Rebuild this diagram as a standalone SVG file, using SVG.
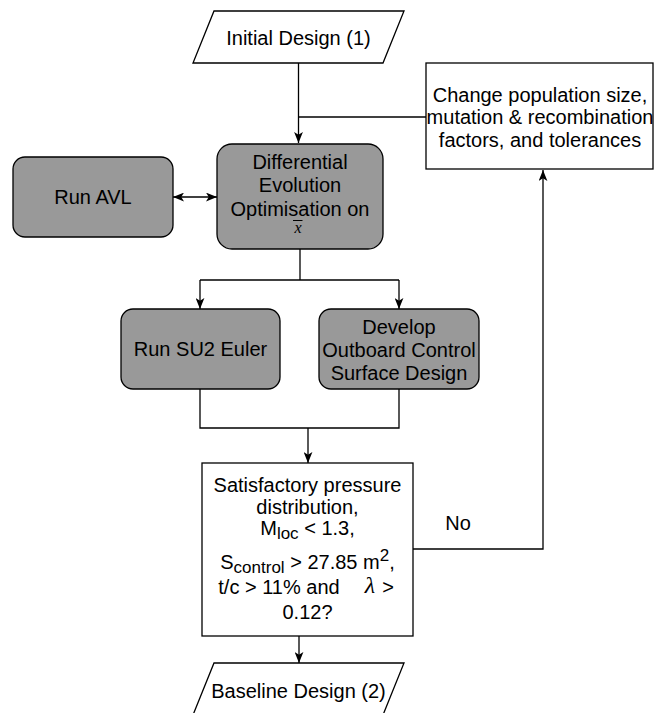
<svg xmlns="http://www.w3.org/2000/svg" width="655" height="713" viewBox="0 0 655 713">
<defs>
<style>
.t{font-family:"Liberation Sans",Arial,Helvetica,sans-serif;font-size:20px;fill:#000;text-anchor:middle}
.s{font-family:"Liberation Sans",Arial,Helvetica,sans-serif;font-size:17px;fill:#000}
.box{fill:#fff;stroke:#000;stroke-width:1.3}
.grey{fill:#999999;stroke:#000;stroke-width:1.3}
.ln{fill:none;stroke:#000;stroke-width:1.3}
.math{font-family:"Liberation Serif","DejaVu Serif",serif;font-style:italic;fill:#000}
</style>
<marker id="arr" viewBox="0 0 10 8" refX="10" refY="4" markerWidth="11" markerHeight="9" markerUnits="userSpaceOnUse" orient="auto-start-reverse">
<path d="M0,0 L10,4 L0,8 L2.5,4 z" fill="#000"/>
</marker>
</defs>
<rect width="655" height="713" fill="#fff"/>

<g id="connectors">
<path class="ln" d="M298.5,63 V143" marker-end="url(#arr)"/>
<path class="ln" d="M426,117 H298.5"/>
<path class="ln" d="M173,197 H217" marker-start="url(#arr)" marker-end="url(#arr)"/>
<path class="ln" d="M300,249 V280"/>
<path class="ln" d="M200,280 H399"/>
<path class="ln" d="M200,280 V309" marker-end="url(#arr)"/>
<path class="ln" d="M399,280 V309" marker-end="url(#arr)"/>
<path class="ln" d="M200,389 V428 H399 V389"/>
<path class="ln" d="M308,428 V463" marker-end="url(#arr)"/>
<path class="ln" d="M299,636 V663" marker-end="url(#arr)"/>
<path class="ln" d="M413,549 H543 V170" marker-end="url(#arr)"/>
<text class="t" x="458" y="530">No</text>
</g>

<g id="initial">
<polygon class="box" points="214,11 404,11 383,63 193,63"/>
<text class="t" x="298.5" y="45">Initial Design (1)</text>
</g>

<g id="change">
<rect class="box" x="426" y="63" width="227" height="106"/>
<text class="t" x="540" y="102">Change population size,</text>
<text class="t" x="540" y="124">mutation &amp; recombination</text>
<text class="t" x="540" y="147">factors, and tolerances</text>
</g>

<g id="de">
<rect class="grey" x="217" y="144" width="166" height="105" rx="15"/>
<text class="t" x="300" y="169">Differential</text>
<text class="t" x="300" y="192">Evolution</text>
<text class="t" x="300" y="216">Optimisation on</text>
<text class="math" x="298" y="233" font-size="16" text-anchor="middle">x</text>
<line x1="293" y1="220.5" x2="302.5" y2="220.5" stroke="#000" stroke-width="1"/>
</g>

<g id="avl">
<rect class="grey" x="13" y="157" width="160" height="80" rx="12"/>
<text class="t" x="93" y="204">Run AVL</text>
</g>

<g id="su2">
<rect class="grey" x="121" y="309" width="159" height="80" rx="12"/>
<text class="t" x="200.5" y="356">Run SU2 Euler</text>
</g>

<g id="develop">
<rect class="grey" x="319" y="309" width="160" height="80" rx="12"/>
<text class="t" x="399" y="334">Develop</text>
<text class="t" x="399" y="357">Outboard Control</text>
<text class="t" x="399" y="380">Surface Design</text>
</g>

<g id="decision">
<rect class="box" x="202" y="463" width="211" height="173"/>
<text class="t" x="307.5" y="492">Satisfactory pressure</text>
<text class="t" x="307.5" y="514">distribution,</text>
<text class="t" x="307.5" y="535">M<tspan class="s" dy="4">loc</tspan><tspan dy="-4"> &lt; 1.3,</tspan></text>
<text class="t" x="307.5" y="569">S<tspan class="s" dy="4">control</tspan><tspan dy="-4"> &gt; 27.85 m</tspan><tspan class="s" dy="-8">2</tspan><tspan dy="8">,</tspan></text>
<text class="t" x="279" y="594">t/c &gt; 11% and</text>
<text class="math" x="370" y="593" font-size="24" text-anchor="middle">λ</text>
<text class="t" x="388" y="594">&gt;</text>
<text class="t" x="307.5" y="619">0.12?</text>
</g>

<g id="baseline">
<polygon class="box" points="214,663 404,663 383,715 193,715"/>
<text class="t" x="298.5" y="698">Baseline Design (2)</text>
</g>
</svg>
